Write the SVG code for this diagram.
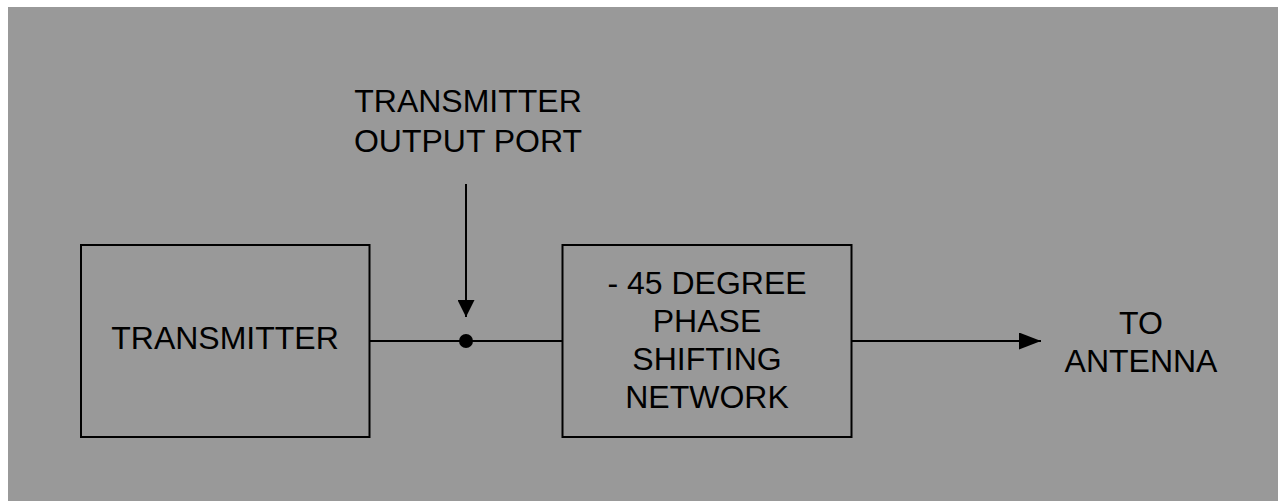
<svg xmlns="http://www.w3.org/2000/svg" width="1278" height="501" viewBox="0 0 1278 501">
  <defs>
    <style>
      .box { fill: none; stroke: #000; stroke-width: 2; }
      .wire { fill: none; stroke: #000; stroke-width: 2; }
      .lbl { font-family: "Liberation Sans", Arial, sans-serif; font-size: 32px; fill: #000; text-anchor: middle; }
    </style>
    <marker id="arrow" viewBox="0 0 22 17" refX="22" refY="8.5" markerWidth="22" markerHeight="17" markerUnits="userSpaceOnUse" orient="auto">
      <path d="M0,0 L22,8.5 L0,17 Z" fill="#000"/>
    </marker>
    <marker id="arrow-short" viewBox="0 0 17 17" refX="17" refY="8.5" markerWidth="17" markerHeight="17" markerUnits="userSpaceOnUse" orient="auto">
      <path d="M0,0 L17,8.5 L0,17 Z" fill="#000"/>
    </marker>
  </defs>
  <rect x="0" y="0" width="1278" height="501" fill="#ffffff"/>
  <rect x="8" y="7" width="1270" height="494" fill="#999999"/>

  <g id="connectors">
    <line class="wire" x1="369.5" y1="341" x2="562.5" y2="341"/>
    <line class="wire" x1="466" y1="184" x2="466" y2="317" marker-end="url(#arrow-short)"/>
    <line class="wire" x1="851.5" y1="341" x2="1041" y2="341" marker-end="url(#arrow)"/>
    <circle cx="466" cy="341" r="7" fill="#000"/>
  </g>

  <g id="transmitter">
    <rect class="box" x="81" y="245" width="288.5" height="192"/>
    <text class="lbl" x="225" y="349">TRANSMITTER</text>
  </g>

  <g id="output-port-label">
    <text class="lbl" x="468" y="112">TRANSMITTER</text>
    <text class="lbl" x="468" y="152">OUTPUT PORT</text>
  </g>

  <g id="phase-network">
    <rect class="box" x="562.5" y="245" width="289" height="192"/>
    <text class="lbl" x="707" y="294">- 45 DEGREE</text>
    <text class="lbl" x="707" y="332">PHASE</text>
    <text class="lbl" x="707" y="370">SHIFTING</text>
    <text class="lbl" x="707" y="408">NETWORK</text>
  </g>

  <g id="antenna-label">
    <text class="lbl" x="1141" y="334">TO</text>
    <text class="lbl" x="1141" y="372">ANTENNA</text>
  </g>
</svg>
